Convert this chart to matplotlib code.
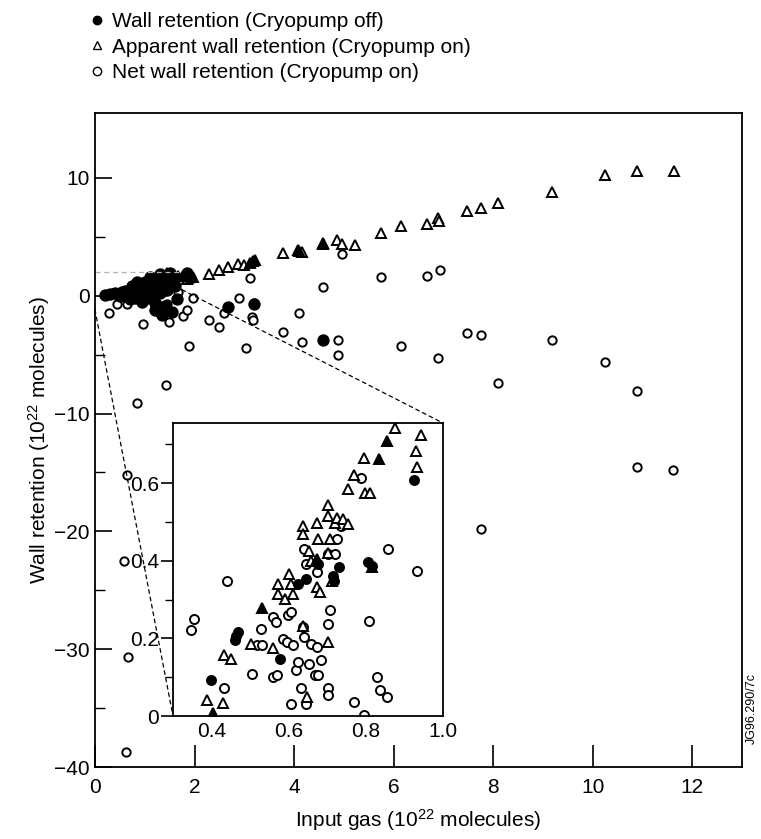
import matplotlib
matplotlib.use("Agg")
import matplotlib.pyplot as plt
from matplotlib.lines import Line2D
from matplotlib.patches import ConnectionPatch

plt.rcParams["font.family"] = ["Liberation Sans", "DejaVu Sans"]
plt.rcParams["mathtext.default"] = "regular"

# ---- main panel data (input gas, wall retention; 1e22 molecules) ----
MAIN_OFF_X = [0.20, 0.30, 0.40, 0.50, 0.55, 0.60, 0.70, 0.70, 0.80, 0.80, 0.90, 0.90,
              0.95, 1.00, 1.00, 1.05, 1.10, 1.10, 1.15, 1.20, 1.20, 1.25, 1.30, 1.30,
              1.35, 1.40, 1.40, 1.45, 1.50, 1.50, 1.55, 1.60, 1.60, 1.65, 1.80, 1.90,
              1.85, 1.20, 1.35, 0.85, 0.75, 2.67, 4.59, 3.20]
MAIN_OFF_Y = [0.05, 0.1, 0.2, 0.0, 0.3, 0.4, 0.2, -0.3, 0.5, -0.2, 0.8, 0.2,
              -0.5, 1.2, 0.5, -0.2, 1.6, 0.9, 0.3, -0.6, 1.3, 0.7, 1.8, 0.2,
              1.0, -0.9, 1.6, 0.5, 1.9, 1.2, -1.4, 1.5, 0.8, -0.3, 1.7, 1.5,
              1.9, -1.2, -1.6, 1.2, 0.8, -1.0, -3.8, -0.7]

MAIN_APP_X = [1.30, 1.45, 1.66, 1.84, 1.97, 2.30, 2.49, 2.67, 2.87, 3.00, 3.17, 3.77,
              4.07, 4.15, 4.59, 4.87, 4.97, 5.23, 5.75, 6.15, 6.67, 6.90, 6.91, 7.47,
              7.75, 8.10, 9.18, 10.24, 10.90, 11.64]
MAIN_APP_Y = [1.5, 1.9, 1.7, 1.45, 1.6, 1.8, 2.2, 2.4, 2.7, 2.6, 2.9, 3.6,
              3.9, 3.7, 4.4, 4.7, 4.4, 4.3, 5.3, 5.9, 6.1, 6.6, 6.3, 7.2,
              7.4, 7.9, 8.8, 10.2, 10.6, 10.6]
MAIN_APP_FILLED_X = [1.10, 1.50, 3.12, 3.22, 4.10, 4.59]
MAIN_APP_FILLED_Y = [1.4, 1.6, 2.8, 3.0, 3.8, 4.5]

MAIN_NET_X = [0.28, 0.44, 0.64, 0.96, 1.26, 1.40, 1.66, 1.24, 1.44, 1.30, 1.48, 1.76,
              1.84, 1.97, 1.88, 2.30, 2.49, 2.60, 2.89, 3.03, 3.12, 3.20, 3.15, 3.17,
              3.77, 4.09, 4.15, 4.59, 4.89, 4.89, 4.97, 5.75, 6.15, 6.67, 6.93, 7.47,
              7.75, 6.90, 9.18, 8.10, 10.24, 10.90, 7.75, 10.90, 11.62, 1.42, 0.84,
              0.64, 0.58, 0.67, 0.62]
MAIN_NET_Y = [-1.5, -0.7, -0.7, -2.4, 0.2, 0.4, 0.3, -0.7, -0.7, -1.5, -2.2, -1.7,
              -1.2, -0.2, -4.3, -2.1, -2.7, -1.5, -0.2, -4.4, 1.5, -0.6, -1.8, -2.1,
              -3.1, -1.5, -3.9, 0.7, -3.8, -5.0, 3.5, 1.6, -4.3, 1.7, 2.2, -3.2,
              -3.3, -5.3, -3.8, -7.4, -5.6, -8.1, -19.8, -14.5, -14.8, -7.6, -9.1,
              -15.2, -22.5, -30.7, -38.7]

# ---- inset data ----
INS_OFF_X = [0.399, 0.461, 0.468, 0.464, 0.577, 0.623, 0.644, 0.676, 0.715, 0.717,
             0.730, 0.806, 0.816, 0.925]
INS_OFF_Y = [0.094, 0.195, 0.216, 0.205, 0.148, 0.340, 0.353, 0.391, 0.362, 0.349,
             0.385, 0.396, 0.387, 0.609]

INS_APP_X = [0.388, 0.430, 0.433, 0.451, 0.501, 0.560, 0.571, 0.573, 0.590, 0.600,
             0.606, 0.610, 0.636, 0.636, 0.636, 0.648, 0.652, 0.657, 0.673, 0.675,
             0.673, 0.682, 0.703, 0.703, 0.707, 0.703, 0.703, 0.711, 0.720, 0.724,
             0.740, 0.753, 0.753, 0.770, 0.795, 0.797, 0.812, 0.875, 0.944, 0.929,
             0.933, 0.816]
INS_APP_Y = [0.041, 0.034, 0.156, 0.148, 0.186, 0.174, 0.340, 0.315, 0.302, 0.366,
             0.340, 0.315, 0.490, 0.468, 0.233, 0.050, 0.426, 0.400, 0.498, 0.456,
             0.332, 0.319, 0.545, 0.515, 0.456, 0.421, 0.191, 0.349, 0.498, 0.511,
             0.507, 0.494, 0.584, 0.622, 0.665, 0.575, 0.575, 0.742, 0.723, 0.682,
             0.641, 0.383]
INS_APP_FILLED_X = [0.403, 0.531, 0.673, 0.833, 0.856]
INS_APP_FILLED_Y = [0.007, 0.279, 0.404, 0.662, 0.708]

INS_NET_X = [0.346, 0.355, 0.441, 0.433, 0.504, 0.518, 0.531, 0.529, 0.560, 0.570,
             0.560, 0.568, 0.585, 0.597, 0.595, 0.606, 0.610, 0.619, 0.623, 0.606,
             0.631, 0.640, 0.636, 0.640, 0.644, 0.644, 0.652, 0.657, 0.667, 0.675,
             0.673, 0.673, 0.684, 0.703, 0.703, 0.707, 0.703, 0.703, 0.720, 0.724,
             0.735, 0.770, 0.787, 0.795, 0.808, 0.829, 0.837, 0.854, 0.858, 0.933]
INS_NET_Y = [0.221, 0.250, 0.349, 0.071, 0.109, 0.182, 0.182, 0.225, 0.101, 0.105,
             0.255, 0.242, 0.199, 0.259, 0.191, 0.268, 0.182, 0.118, 0.139, 0.032,
             0.071, 0.203, 0.229, 0.430, 0.391, 0.032, 0.135, 0.186, 0.105, 0.105,
             0.178, 0.370, 0.144, 0.417, 0.238, 0.272, 0.071, 0.054, 0.417, 0.456,
             0.490, 0.037, 0.614, 0.003, 0.246, 0.101, 0.067, 0.050, 0.430, 0.374]

LABELS = ["Wall retention (Cryopump off)",
          "Apparent wall retention (Cryopump on)",
          "Net wall retention (Cryopump on)"]

FS = 15

fig = plt.figure(figsize=(7.61, 8.39), dpi=100)
ax = fig.add_axes([0.1248, 0.0858, 0.8502, 0.7795])

mk = dict(linestyle="none", color="black", markeredgewidth=1.4)
ax.plot(MAIN_NET_X, MAIN_NET_Y, marker="o", markersize=6, markerfacecolor="white", **mk)
ax.plot(MAIN_APP_X, MAIN_APP_Y, marker="^", markersize=6.5, markerfacecolor="white", **mk)
ax.plot(MAIN_APP_FILLED_X, MAIN_APP_FILLED_Y, marker="^", markersize=7, **mk)
ax.plot(MAIN_OFF_X, MAIN_OFF_Y, marker="o", markersize=7.5, **mk)

ax.set_xlim(0, 13)
ax.set_ylim(-40, 15.5)
ax.set_xticks([0, 2, 4, 6, 8, 10, 12])
ax.set_yticks([10, 0, -10, -20, -30, -40])
ax.set_yticklabels(["10", "0", "\u221210", "\u221220", "\u221230", "\u221240"])
ax.set_yticks([5, -5, -15, -25, -35], minor=True)
ax.tick_params(axis="y", which="major", direction="in", length=12, width=1.2, labelsize=FS, pad=4)
ax.tick_params(axis="y", which="minor", direction="in", length=7, width=1.0)
ax.tick_params(axis="x", which="major", direction="in", length=16, width=1.2, labelsize=FS, pad=8)
for s in ax.spines.values():
    s.set_linewidth(1.3)
ax.set_xlabel("Input gas (10$^{22}$ molecules)", fontsize=FS, labelpad=7)
ax.set_ylabel("Wall retention (10$^{22}$ molecules)", fontsize=FS, labelpad=1)

# zoom marker on the main panel
ax.plot([0, 1.75], [2, 2], linestyle=(0, (4, 3)), color="0.7", linewidth=0.9)

# inset
axin = fig.add_axes([0.2273, 0.1466, 0.3548, 0.3492])
axin.plot(INS_NET_X, INS_NET_Y, marker="o", markersize=6.5, markerfacecolor="white", **mk)
axin.plot(INS_APP_X, INS_APP_Y, marker="^", markersize=7.5, markerfacecolor="white", **mk)
axin.plot(INS_APP_FILLED_X, INS_APP_FILLED_Y, marker="^", markersize=7.5, **mk)
axin.plot(INS_OFF_X, INS_OFF_Y, marker="o", markersize=6.5, **mk)
axin.set_xlim(0.3, 1.0)
axin.set_ylim(0, 0.755)
axin.set_xticks([0.4, 0.6, 0.8, 1.0])
axin.set_xticklabels(["0.4", "0.6", "0.8", "1.0"])
axin.set_yticks([0, 0.2, 0.4, 0.6])
axin.set_yticklabels(["0", "0.2", "0.4", "0.6"])
axin.set_yticks([0.1, 0.3, 0.5, 0.7], minor=True)
axin.tick_params(axis="x", length=0, labelsize=FS, pad=4)
axin.tick_params(axis="y", which="major", direction="out", length=9, width=1.2, labelsize=FS, pad=1)
axin.tick_params(axis="y", which="minor", direction="out", length=6, width=1.0)
for s in axin.spines.values():
    s.set_linewidth(1.3)

for xy_main, xy_in in [((0, -1.2), (0, 0)), ((1.75, 0.5), (1, 1))]:
    con = ConnectionPatch(xyA=xy_main, coordsA=ax.transData,
                          xyB=xy_in, coordsB=axin.transAxes,
                          linestyle=(0, (3, 3)), color="black", linewidth=0.9)
    fig.add_artist(con)

# legend above the frame
handles = [
    Line2D([], [], marker="o", markersize=6, color="black", linestyle="none"),
    Line2D([], [], marker="^", markersize=6, color="black", markerfacecolor="white",
           markeredgewidth=1.0, linestyle="none"),
    Line2D([], [], marker="o", markersize=6, color="black", markerfacecolor="white",
           markeredgewidth=1.0, linestyle="none"),
]
fig.legend(handles, LABELS, loc="upper left", bbox_to_anchor=(0.103, 1.0),
           frameon=False, fontsize=FS, handlelength=0.6, handletextpad=0.4,
           labelspacing=0.3, borderaxespad=0.2)

fig.text(0.988, 0.155, "JG96.290/7c", rotation=90, fontsize=9, ha="center", va="center")

fig.savefig("out.png", dpi=100)
